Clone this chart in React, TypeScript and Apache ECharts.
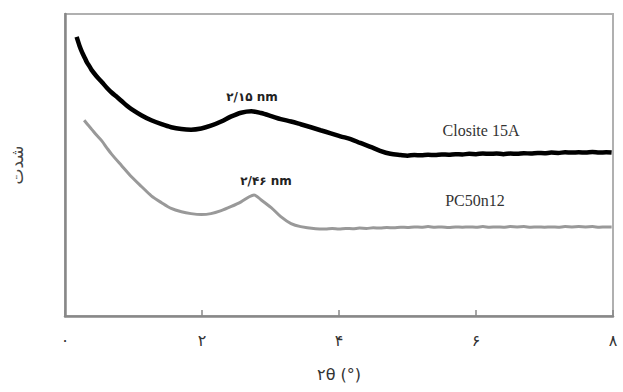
import React, { useEffect, useRef } from "react";
import * as echarts from "echarts";

const xTickLabels = ["۰", "۲", "۴", "۶", "۸"];

const clositeTheta = [
  0.17, 0.21, 0.25, 0.29, 0.32, 0.36, 0.39, 0.46, 0.54, 0.61, 0.68, 0.76, 0.83, 0.9, 0.97, 1.12, 1.26, 1.41, 1.55, 1.7, 1.84, 1.99,
  2.13, 2.28, 2.42, 2.57, 2.72, 2.86, 3.01, 3.15, 3.3, 3.44, 3.59, 3.73, 3.88, 4.02, 4.17,
  4.31, 4.46, 4.6, 4.75, 4.9, 5.0, 5.1, 5.2, 5.3, 5.4, 5.5, 5.6, 5.7, 5.8, 5.9, 6.0, 6.1,
  6.2, 6.3, 6.4, 6.5, 6.6, 6.7, 6.8, 6.9, 7.0, 7.1, 7.2, 7.3, 7.4, 7.5, 7.6, 7.7, 7.8, 7.9, 7.98,
];
const clositeIntensity = [
  92.4, 89.6, 87.3, 85.4, 84.0, 82.6, 81.4, 79.4, 77.4, 75.6, 74.0, 72.5, 71.1, 69.7, 68.5, 66.4, 64.8, 63.5, 62.5, 61.9, 61.7, 62.1,
  63.0, 64.4, 66.0, 67.3, 67.8, 67.2, 66.2, 65.2, 64.4, 63.5, 62.5, 61.5, 60.5, 59.5, 58.6,
  57.3, 56.0, 54.7, 53.7, 53.3, 53.1, 53.3, 53.2, 53.4, 53.3, 53.5, 53.4, 53.6, 53.5, 53.7, 53.6, 53.8,
  53.7, 53.8, 53.6, 53.8, 53.7, 53.9, 53.8, 54.0, 53.9, 54.1, 54.0, 54.2, 54.1, 54.2, 54.1, 54.3, 54.1, 54.2, 54.1,
];

const pcTheta = [
  0.28, 0.33, 0.39, 0.46, 0.54, 0.61, 0.68, 0.83, 0.97, 1.12, 1.26, 1.41, 1.55, 1.7, 1.84, 1.99, 2.13, 2.28,
  2.42, 2.57, 2.69, 2.76, 2.86, 3.01, 3.15, 3.3, 3.44, 3.66, 3.8, 3.9, 4.0, 4.1, 4.2, 4.3,
  4.4, 4.5, 4.6, 4.7, 4.8, 4.9, 5.0, 5.1, 5.2, 5.3, 5.4, 5.5, 5.6, 5.7, 5.8, 5.9, 6.0, 6.1,
  6.2, 6.3, 6.4, 6.5, 6.6, 6.7, 6.8, 6.9, 7.0, 7.1, 7.2, 7.3, 7.4, 7.5, 7.6, 7.7, 7.8, 7.9, 7.98,
];
const pcIntensity = [
  64.8, 63.4, 61.8, 59.9, 57.9, 55.7, 53.6, 49.7, 46.1, 42.8, 39.8, 37.5, 35.6, 34.5, 33.9, 33.6, 33.9, 34.9,
  36.2, 37.8, 39.5, 40.1, 38.5, 35.9, 32.9, 30.6, 29.6, 28.9, 28.8, 29.0, 28.8, 29.0, 28.9, 29.1,
  29.0, 29.2, 29.1, 29.3, 29.2, 29.4, 29.3, 29.5, 29.4, 29.6, 29.4, 29.5, 29.3, 29.5, 29.4, 29.5, 29.4, 29.6,
  29.4, 29.5, 29.4, 29.6, 29.5, 29.6, 29.4, 29.5, 29.4, 29.5, 29.4, 29.6, 29.5, 29.6, 29.5, 29.6, 29.4, 29.5, 29.5,
];

const seriesNames = ["Closite 15A", "PC50n12"];
const peakLabels = ["۲/۱۵ nm", "۲/۴۶ nm"];
const xAxisTitle = "۲θ (°)";
const yAxisTitle = "شدت";

export default function App() {
  const ref = useRef<HTMLDivElement>(null);
  useEffect(() => {
    if (!ref.current) return;
    const chart = echarts.init(ref.current, undefined, { renderer: "svg" });
    const toPairs = (xs: number[], ys: number[]) => xs.map((x, i) => [x, ys[i]]);
    chart.setOption({
      animation: false,
      backgroundColor: "#ffffff",
      grid: {
        left: 64,
        right: 10,
        top: 14,
        bottom: 76,
        show: true,
        borderColor: "#b0b0b0",
        borderWidth: 2,
      },
      xAxis: {
        type: "value",
        min: 0,
        max: 8,
        interval: 2,
        name: xAxisTitle,
        nameLocation: "middle",
        nameGap: 50,
        nameTextStyle: { fontFamily: "DejaVu Sans", fontSize: 16, color: "#333" },
        axisLine: { show: true, lineStyle: { color: "#888", width: 2.5 } },
        axisTick: { show: true, inside: true, length: 6, lineStyle: { color: "#888", width: 1.5 } },
        splitLine: { show: false },
        axisLabel: {
          margin: 16,
          fontFamily: "DejaVu Sans",
          fontSize: 16,
          color: "#333",
          formatter: (v: number) => xTickLabels[Math.round(v / 2)] ?? "",
        },
      },
      yAxis: {
        type: "value",
        min: 0,
        max: 100,
        name: yAxisTitle,
        nameLocation: "middle",
        nameGap: 40,
        nameRotate: 90,
        nameTextStyle: { fontFamily: "DejaVu Sans", fontSize: 17, color: "#444" },
        axisLine: { show: true, lineStyle: { color: "#888", width: 2.5 } },
        axisTick: { show: false },
        axisLabel: { show: false },
        splitLine: { show: false },
      },
      series: [
        {
          name: seriesNames[0],
          type: "line",
          data: toPairs(clositeTheta, clositeIntensity),
          showSymbol: false,
          smooth: 0.3,
          lineStyle: { color: "#000", width: 4.5 },
        },
        {
          name: seriesNames[1],
          type: "line",
          data: toPairs(pcTheta, pcIntensity),
          showSymbol: false,
          smooth: 0.3,
          lineStyle: { color: "#999", width: 3 },
        },
      ],
      graphic: [
        {
          type: "text",
          x: 252,
          y: 97,
          style: {
            text: peakLabels[0],
            font: "bold 12px 'DejaVu Sans'",
            fill: "#222",
            align: "center",
            verticalAlign: "middle",
          },
        },
        {
          type: "text",
          x: 266,
          y: 181,
          style: {
            text: peakLabels[1],
            font: "bold 12px 'DejaVu Sans'",
            fill: "#222",
            align: "center",
            verticalAlign: "middle",
          },
        },
        {
          type: "text",
          x: 481,
          y: 130,
          style: {
            text: seriesNames[0],
            font: "16px 'Liberation Serif'",
            fill: "#333",
            align: "center",
            verticalAlign: "middle",
          },
        },
        {
          type: "text",
          x: 475,
          y: 200,
          style: {
            text: seriesNames[1],
            font: "16px 'Liberation Serif'",
            fill: "#333",
            align: "center",
            verticalAlign: "middle",
          },
        },
      ],
    });
    return () => chart.dispose();
  }, []);
  return <div ref={ref} style={{ width: 623, height: 392, position: "fixed", left: 0, top: 0 }} />;
}
